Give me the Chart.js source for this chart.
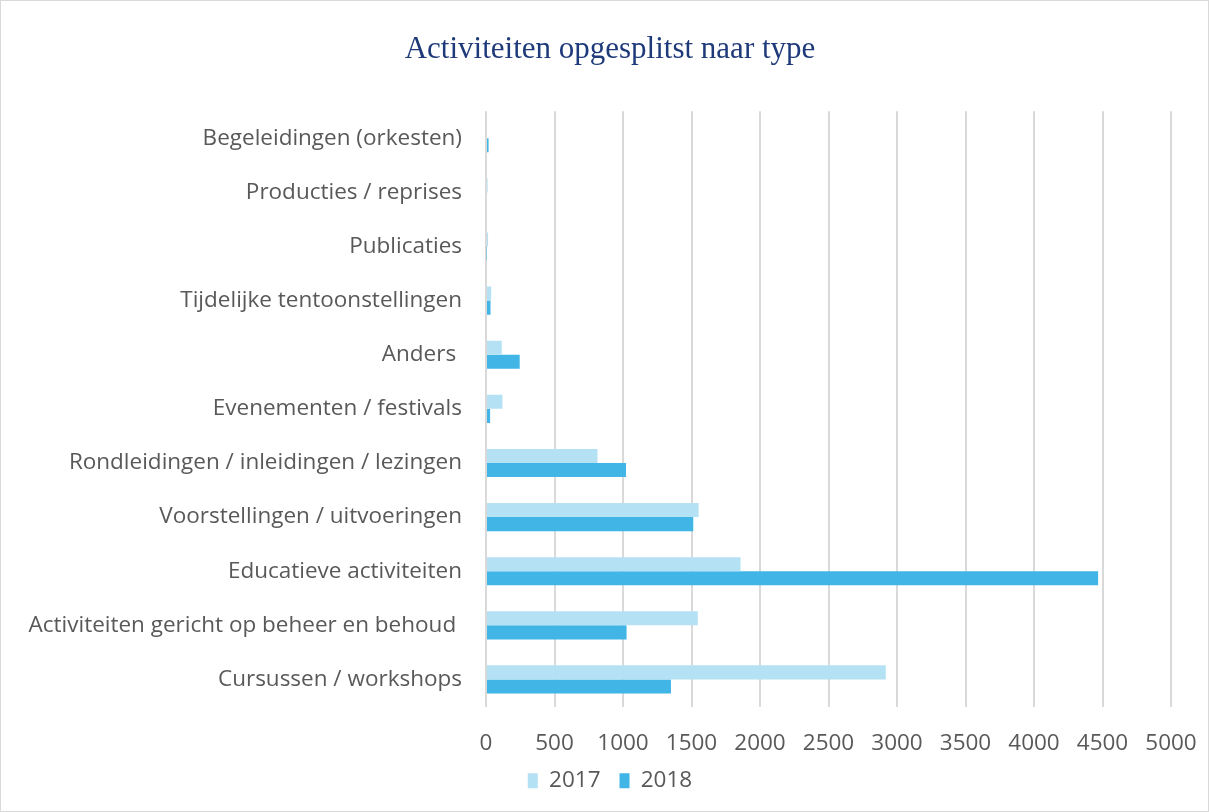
<!DOCTYPE html>
<html>
<head>
<meta charset="utf-8">
<script src="https://cdn.jsdelivr.net/npm/chart.js@4.4.1/dist/chart.umd.min.js"></script>
<style>
  html, body { margin: 0; padding: 0; background: #fff; }
  #wrap { position: relative; width: 1209px; height: 812px; box-sizing: border-box; border: 1px solid #d9d9d9; }
</style>
</head>
<body>
<div id="wrap"><canvas id="chart" width="1207" height="810"></canvas></div>
<script>
  const categories = [
    'Begeleidingen (orkesten)',
    'Producties / reprises',
    'Publicaties',
    'Tijdelijke tentoonstellingen',
    'Anders ',
    'Evenementen / festivals',
    'Rondleidingen / inleidingen / lezingen',
    'Voorstellingen / uitvoeringen',
    'Educatieve activiteiten',
    'Activiteiten gericht op beheer en behoud ',
    'Cursussen / workshops'
  ];
  const values2017 = [0, 12, 15, 38, 115, 120, 814, 1552, 1858, 1546, 2918];
  const values2018 = [19, 0, 4, 33, 246, 30, 1022, 1513, 4468, 1026, 1350];
  const seriesNames = ['2017', '2018'];

  const textColor = '#595959';
  const gridColor = '#d9d9d9';
  const labelFont = { family: "'Open Sans', 'Noto Sans', sans-serif", size: 22.5 };

  const ctx = document.getElementById('chart').getContext('2d');
  new Chart(ctx, {
    type: 'bar',
    data: {
      labels: categories,
      datasets: [
        {
          label: seriesNames[0],
          data: values2017,
          backgroundColor: '#b4e2f4',
          categoryPercentage: 0.52,
          barPercentage: 1.0
        },
        {
          label: seriesNames[1],
          data: values2018,
          backgroundColor: '#41b6e6',
          categoryPercentage: 0.52,
          barPercentage: 1.0
        }
      ]
    },
    options: {
      indexAxis: 'y',
      responsive: false,
      animation: false,
      layout: {
        padding: { left: 11, right: 0, top: 0, bottom: 9 }
      },
      plugins: {
        title: {
          display: true,
          text: 'Activiteiten opgesplitst naar type',
          color: '#1f3a7a',
          font: { family: "'Liberation Serif', 'DejaVu Serif', serif", size: 31, weight: 'normal' },
          padding: { top: 30, bottom: 43 }
        },
        legend: {
          position: 'bottom',
          labels: {
            color: textColor,
            font: labelFont,
            boxWidth: 10,
            boxHeight: 15,
            padding: 19
          }
        },
        tooltip: { enabled: false }
      },
      scales: {
        x: {
          min: 0,
          max: 5000,
          ticks: {
            stepSize: 500,
            color: textColor,
            font: labelFont,
            padding: 24,
            maxRotation: 0,
            callback: value => String(value)
          },
          grid: {
            color: gridColor,
            lineWidth: 2,
            drawTicks: false
          },
          border: { display: false },
          afterFit: scale => {
            scale.height = 44;
            scale.paddingRight = 37;
          }
        },
        y: {
          ticks: {
            color: textColor,
            font: labelFont,
            padding: 24,
            autoSkip: false
          },
          grid: { display: false, drawTicks: false },
          border: { display: false },
          afterFit: scale => {
            scale.width = 474;
          }
        }
      }
    }
  });
</script>
</body>
</html>
